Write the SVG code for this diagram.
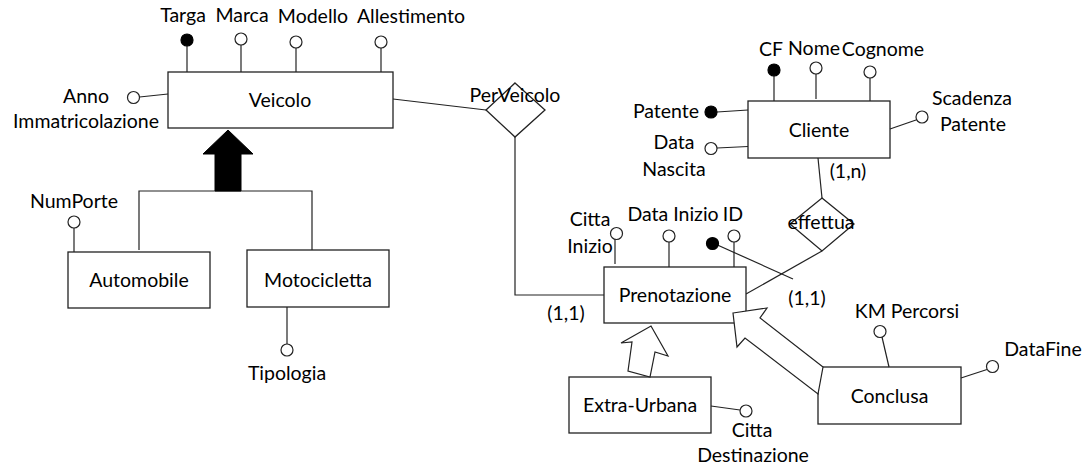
<svg xmlns="http://www.w3.org/2000/svg" width="1084" height="469" viewBox="0 0 1084 469">
<style>
text{font-family:Lato,"Liberation Sans",sans-serif;font-size:19.5px;fill:#000;text-anchor:middle}
.e{fill:#fff;stroke:#222;stroke-width:1.3}
.l{fill:none;stroke:#222;stroke-width:1.2}
.a{fill:#fff;stroke:#222;stroke-width:1.2}
.k{fill:#000;stroke:#000;stroke-width:1.2}
</style>
<rect width="1084" height="469" fill="#fff"/>
<g id="connectors">
<polyline class="l" points="393,99 486,110"/>
<polyline class="l" points="515,137 515,295 604,295"/>
<polyline class="l" points="818,158 822,198"/>
<polyline class="l" points="822,251 746,294"/>
<polyline class="l" points="139,250 139,191 312,191 312,250"/>
<polygon points="228,130 253,154 241,154 241,191 215,191 215,154 203,154" fill="#000" stroke="#000"/>
<line class="l" x1="713" y1="243" x2="793" y2="279"/>
</g>
<g id="Veicolo">
<rect class="e" x="168" y="72" width="225" height="56"/>
<text x="280" y="107">Veicolo</text>
</g>
<g id="attr-Targa"><line class="l" x1="187" y1="46" x2="187" y2="72"/><circle class="k" cx="187" cy="40" r="6"/><text x="183" y="22">Targa</text></g>
<g id="attr-Marca"><line class="l" x1="241" y1="45" x2="241" y2="72"/><circle class="a" cx="241" cy="39" r="6"/><text x="242" y="22">Marca</text></g>
<g id="attr-Modello"><line class="l" x1="296" y1="48" x2="296" y2="72"/><circle class="a" cx="296" cy="42" r="6"/><text x="313" y="23">Modello</text></g>
<g id="attr-Allestimento"><line class="l" x1="381" y1="48" x2="381" y2="72"/><circle class="a" cx="381" cy="42" r="6"/><text x="411" y="23">Allestimento</text></g>
<g id="attr-Anno"><line class="l" x1="139.5" y1="97" x2="168" y2="94"/><circle class="a" cx="133.5" cy="97.5" r="6"/><text x="86" y="103">Anno</text><text x="86" y="128">Immatricolazione</text></g>
<g id="PerVeicolo">
<polygon class="e" points="515,83 545,110 515,137 486,110"/>
<text x="515" y="102">PerVeicolo</text>
</g>
<g id="Automobile">
<rect class="e" x="68" y="252" width="142" height="56"/>
<text x="139" y="287">Automobile</text>
</g>
<g id="attr-NumPorte"><line class="l" x1="74" y1="228" x2="74" y2="252"/><circle class="a" cx="74" cy="222" r="6"/><text x="74" y="208">NumPorte</text></g>
<g id="Motocicletta">
<rect class="e" x="247" y="250" width="142" height="57"/>
<text x="318" y="287">Motocicletta</text>
</g>
<g id="attr-Tipologia"><line class="l" x1="287" y1="307" x2="287" y2="344"/><circle class="a" cx="287" cy="350" r="6"/><text x="287" y="380">Tipologia</text></g>
<g id="Cliente">
<rect class="e" x="748" y="101" width="142" height="57"/>
<text x="819" y="137">Cliente</text>
</g>
<g id="attr-CF"><line class="l" x1="774" y1="76" x2="774" y2="101"/><circle class="k" cx="774" cy="70" r="6"/><text x="771" y="56">CF</text></g>
<g id="attr-Nome"><line class="l" x1="816" y1="74" x2="816" y2="99"/><circle class="a" cx="816" cy="68" r="6"/><text x="814" y="55">Nome</text></g>
<g id="attr-Cognome"><line class="l" x1="870" y1="78" x2="870" y2="101"/><circle class="a" cx="870" cy="72" r="6"/><text x="883" y="56">Cognome</text></g>
<g id="attr-Patente"><line class="l" x1="717" y1="112" x2="748" y2="110"/><circle class="k" cx="711" cy="112" r="6"/><text x="666" y="118">Patente</text></g>
<g id="attr-DataNascita"><line class="l" x1="717" y1="148" x2="748" y2="146.5"/><circle class="a" cx="711" cy="148.5" r="6"/><text x="674" y="149">Data</text><text x="674" y="176">Nascita</text></g>
<g id="attr-ScadenzaPatente"><line class="l" x1="890" y1="129" x2="916" y2="120"/><circle class="a" cx="922" cy="117" r="6"/><text x="972" y="105">Scadenza</text><text x="973" y="131">Patente</text></g>
<g id="effettua">
<polygon class="e" points="822,198 854,224 822,251 790,224"/>
<text x="821" y="229">effettua</text>
</g>
<text x="848" y="178">(1,n)</text>
<text x="807" y="305">(1,1)</text>
<text x="566" y="320">(1,1)</text>
<g id="Prenotazione">
<rect class="e" x="604" y="267" width="142" height="56"/>
<text x="675" y="302">Prenotazione</text>
</g>
<g id="attr-CittaInizio"><line class="l" x1="615" y1="239" x2="615" y2="264"/><circle class="a" cx="616.5" cy="233.5" r="6"/><text x="590" y="226">Citta</text><text x="590" y="253">Inizio</text></g>
<g id="attr-DataInizio"><line class="l" x1="669" y1="242" x2="669" y2="267"/><circle class="a" cx="669" cy="236" r="6"/><text x="673" y="221">Data Inizio</text></g>
<g id="attr-ID"><line class="l" x1="734" y1="242" x2="734" y2="267"/><circle class="a" cx="734" cy="236" r="6"/><text x="733" y="221">ID</text><circle class="k" cx="712.5" cy="243.5" r="6"/></g>
<g id="Extra-Urbana">
<rect class="e" x="569" y="377" width="142" height="56"/>
<text x="640" y="412">Extra-Urbana</text>
</g>
<polygon class="a" points="651,326 668,356 655,352 650,377 628,371 632,342 621,343"/>
<g id="attr-CittaDestinazione"><line class="l" x1="711" y1="406" x2="740" y2="410"/><circle class="a" cx="746" cy="411" r="6"/><text x="752" y="437">Citta</text><text x="753" y="462">Destinazione</text></g>
<g id="Conclusa">
<rect class="e" x="818" y="367" width="143" height="57"/>
<text x="889.5" y="403">Conclusa</text>
</g>
<polygon class="a" points="733,313 767,308 760,318 823,367 818,394 745,338 737,347"/>
<g id="attr-KMPercorsi"><line class="l" x1="882" y1="337" x2="889" y2="367"/><circle class="a" cx="880" cy="331.5" r="6"/><text x="907" y="318">KM Percorsi</text></g>
<g id="attr-DataFine"><line class="l" x1="961" y1="378" x2="987" y2="369.5"/><circle class="a" cx="992.5" cy="366.5" r="6"/><text x="1043" y="356">DataFine</text></g>
</svg>
